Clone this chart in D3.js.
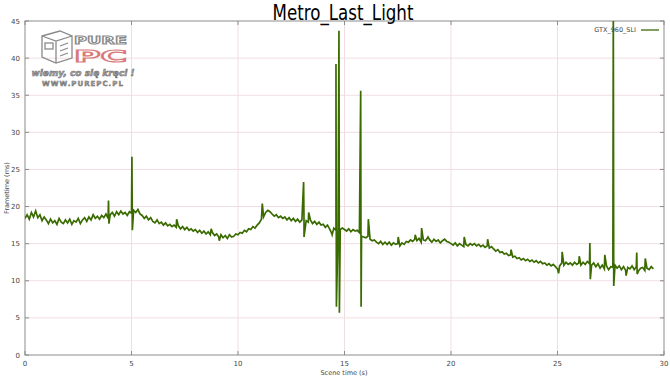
<!doctype html>
<html>
<head>
<meta charset="utf-8">
<script src="https://cdn.jsdelivr.net/npm/d3@7"></script>
<style>
  body { margin: 0; background: #fff; }
  svg { display: block; font-family: "DejaVu Sans", sans-serif; }
</style>
</head>
<body>
<svg width="670" height="377"></svg>
<script>

var chartTitle = "Metro_Last_Light";
var seriesName = "GTX_960_SLI";
var xTicks = [0, 5, 10, 15, 20, 25, 30];
var yTicks = [0, 5, 10, 15, 20, 25, 30, 35, 40, 45];

// frametime (ms) read every 0.1 s, one row per second
var baseStep = 0.1;
var baseValues = [
  18.4, 18.9, 18.3, 19.2, 18.6, 19.4, 18.5, 18.9, 18.1, 18.6,
  18.2, 17.7, 18.3, 17.8, 18.1, 17.6, 18.4, 17.9, 17.7, 18.2,
  17.8, 18.3, 17.6, 18.1, 17.9, 18.4, 17.7, 18.2, 18.5, 18.0,
  18.6, 18.2, 18.9, 18.4, 18.7, 18.3, 18.8, 18.5, 19.0, 18.4,
  18.9, 19.2, 18.7, 19.3, 18.9, 19.4, 19.0, 19.2, 18.8, 19.3,
  19.1, 19.5, 19.2, 19.6, 19.0, 18.8, 18.4, 18.7, 18.2, 18.5,
  18.0, 17.8, 18.2, 17.7, 17.9, 17.5, 17.8, 17.4, 17.6, 17.3,
  17.5, 17.2, 17.4, 17.0, 17.3, 16.9, 17.2, 16.8, 17.0, 16.7,
  16.9, 16.5, 16.8, 16.4, 16.7, 16.3, 16.6, 16.2, 16.5, 16.1,
  16.3, 15.9, 16.2, 15.8, 16.1, 15.7, 16.2, 15.9, 16.0, 16.3,
  16.2, 16.5, 16.4, 16.8, 16.6, 17.0, 16.9, 17.3, 17.1, 17.5,
  17.8, 18.3, 18.6, 19.2, 19.5, 19.3, 19.0, 18.7, 18.9, 18.5,
  18.7, 18.4, 18.6, 18.2, 18.5, 18.1, 18.4, 18.0, 18.3, 17.9,
  18.2, 17.8, 18.1, 17.9, 18.2, 17.7, 18.0, 17.6, 17.9, 17.5,
  17.6, 17.2, 17.5, 17.0, 16.4, 17.1, 16.8, 17.2, 16.9, 17.1,
  16.9, 16.7, 17.0, 16.6, 16.9, 16.7, 16.8, 16.5, 16.0, 15.9,
  15.8, 16.0, 15.6, 15.4, 15.5, 15.2, 15.0, 15.3, 14.9, 15.2,
  14.9, 15.2, 14.8, 15.1, 14.9, 15.0, 14.7, 15.1, 14.9, 15.3,
  15.2, 15.5, 15.3, 15.6, 15.4, 15.7, 15.2, 15.5, 15.4, 15.8,
  15.5, 15.2, 15.6, 15.3, 15.5, 15.1, 15.4, 15.6, 15.3, 15.2,
  15.0, 14.8, 15.1, 14.7, 15.0, 14.8, 14.6, 14.9, 14.7, 15.0,
  14.8, 15.0, 14.7, 14.9, 14.6, 14.8, 14.5, 14.7, 14.4, 14.6,
  14.3, 14.0, 14.2, 13.8, 13.9, 13.6, 13.7, 13.4, 13.5, 13.2,
  13.3, 13.0, 13.1, 12.8, 13.0, 12.7, 12.9, 12.6, 12.8, 12.5,
  12.7, 12.4, 12.6, 12.3, 12.4, 12.1, 12.3, 12.0, 12.2, 11.9,
  11.6, 12.0, 12.4, 12.1, 12.5, 12.2, 12.4, 12.1, 12.5, 12.2,
  12.4, 12.1, 12.5, 12.2, 12.6, 12.3, 12.1, 12.4, 11.9, 12.3,
  11.7, 12.1, 11.6, 12.0, 11.5, 11.9, 11.8, 12.1, 11.7, 12.0,
  11.5, 11.9, 11.4, 11.8, 11.6, 12.0, 11.5, 11.9, 11.3, 11.7,
  11.8, 11.4, 11.7, 11.5, 11.9, 11.6
];

// single frames that stick out of the band
var spikeTimes  = [3.92, 3.94, 5.02, 5.04, 7.12, 8.74, 9.12, 11.14, 13.08, 13.10,
                   13.32, 14.42, 14.60, 14.62, 14.74, 14.76, 15.76, 15.78, 16.12, 17.52,
                   18.32, 18.62, 18.92, 20.62, 21.72, 22.82, 25.05, 25.22, 26.02, 26.52,
                   26.54, 27.22, 27.62, 27.64, 28.22, 28.72, 28.74, 29.12];
var spikeValues = [20.8, 17.7, 26.7, 16.8, 18.3, 17.0, 15.4, 20.4, 23.3, 15.9,
                   19.2, 16.2, 39.2, 6.5, 43.7, 5.7, 35.6, 6.5, 18.3, 15.9,
                   16.2, 17.1, 15.9, 15.9, 15.6, 14.2, 11.0, 13.9, 13.3, 15.1,
                   10.2, 13.5, 47.0, 9.3, 10.7, 13.8, 10.9, 13.0];

var data = baseValues.map((v, i) => ({t: +(i * baseStep).toFixed(2), v: v}))
  .concat(spikeTimes.map((t, i) => ({t: t, v: spikeValues[i]})))
  .sort((a, b) => a.t - b.t);

var svg = d3.select("svg");
var plotLeft = 25, plotRight = 664, plotTop = 21, plotBottom = 355;

var xScale = d3.scaleLinear().domain([0, 30]).range([plotLeft, plotRight]);
var yScale = d3.scaleLinear().domain([0, 45]).range([plotBottom, plotTop]);

svg.append("rect").attr("width", 670).attr("height", 377).attr("fill", "#fff");

// grid
svg.append("g").selectAll("line")
  .data(xTicks.slice(1, -1)).enter().append("line")
  .attr("x1", d => xScale(d)).attr("x2", d => xScale(d))
  .attr("y1", plotTop).attr("y2", plotBottom)
  .attr("stroke", "#f1dde1").attr("stroke-width", 1);
svg.append("g").selectAll("line")
  .data(yTicks.slice(1, -1)).enter().append("line")
  .attr("x1", plotLeft).attr("x2", plotRight)
  .attr("y1", d => yScale(d)).attr("y2", d => yScale(d))
  .attr("stroke", "#f1dde1").attr("stroke-width", 1);

// logo
var logo = svg.append("g").attr("fill", "none").attr("stroke", "#8a8a8a").attr("stroke-width", 1.3);
logo.append("path").attr("d", "M42,36 L60,31 L72,36 L72,58 L56,63 L42,57 Z");
logo.append("path").attr("d", "M42,36 L56,41 L72,36 M56,41 L56,63");
logo.append("rect").attr("x", 45).attr("y", 43).attr("width", 8).attr("height", 6);
logo.append("path").attr("d", "M60,46 L68,43 M60,51 L68,48 M60,56 L68,53");
svg.append("text").attr("x", 74).attr("y", 44).text("PURE")
  .attr("font-size", 11).attr("font-weight", "bold")
  .attr("textLength", 53).attr("lengthAdjust", "spacingAndGlyphs")
  .attr("fill", "#fff").attr("stroke", "#8a8a8a").attr("stroke-width", 1);
svg.append("text").attr("x", 74).attr("y", 62).text("PC")
  .attr("font-size", 15).attr("font-weight", "bold")
  .attr("textLength", 53).attr("lengthAdjust", "spacingAndGlyphs")
  .attr("fill", "#fff").attr("stroke", "#d97a7a").attr("stroke-width", 1.2);
svg.append("text").attr("x", 83).attr("y", 76).text("wiemy, co się kręci !")
  .attr("text-anchor", "middle").attr("font-size", 9).attr("font-weight", "bold")
  .attr("font-style", "italic").attr("fill", "#aaa").attr("stroke", "#666").attr("stroke-width", 0.5);
svg.append("text").attr("x", 83).attr("y", 86).text("WWW.PUREPC.PL")
  .attr("text-anchor", "middle").attr("font-size", 7).attr("font-weight", "bold")
  .attr("letter-spacing", 1).attr("fill", "#999").attr("stroke", "#666").attr("stroke-width", 0.4);

// frame
svg.append("rect").attr("x", plotLeft).attr("y", plotTop)
  .attr("width", plotRight - plotLeft).attr("height", plotBottom - plotTop)
  .attr("fill", "none").attr("stroke", "#8c8c8c").attr("stroke-width", 1);

// ticks (inward, mirrored)
var tickG = svg.append("g").attr("stroke", "#8c8c8c");
xTicks.forEach(d => {
  tickG.append("line").attr("x1", xScale(d)).attr("x2", xScale(d)).attr("y1", plotBottom).attr("y2", plotBottom - 4);
  tickG.append("line").attr("x1", xScale(d)).attr("x2", xScale(d)).attr("y1", plotTop).attr("y2", plotTop + 4);
});
yTicks.forEach(d => {
  tickG.append("line").attr("x1", plotLeft).attr("x2", plotLeft + 4).attr("y1", yScale(d)).attr("y2", yScale(d));
  tickG.append("line").attr("x1", plotRight).attr("x2", plotRight - 4).attr("y1", yScale(d)).attr("y2", yScale(d));
});

svg.append("g").selectAll("text").data(xTicks).enter().append("text")
  .attr("x", d => xScale(d)).attr("y", 366)
  .attr("text-anchor", "middle").attr("font-size", 7).attr("fill", "#444")
  .text(d => d);
svg.append("g").selectAll("text").data(yTicks).enter().append("text")
  .attr("x", plotLeft - 5).attr("y", d => yScale(d) + 2.5)
  .attr("text-anchor", "end").attr("font-size", 7).attr("fill", "#444")
  .text(d => d);

svg.append("text").attr("x", 344).attr("y", 375).attr("text-anchor", "middle")
  .attr("font-size", 6.5).attr("fill", "#444").text("Scene time (s)");
svg.append("text").attr("transform", "translate(9,188) rotate(-90)").attr("text-anchor", "middle")
  .attr("font-size", 6.5).attr("fill", "#444").text("Frametime (ms)");

svg.append("text").attr("x", 343).attr("y", 20).attr("text-anchor", "middle")
  .attr("font-size", 22).attr("fill", "#000")
  .attr("textLength", 141).attr("lengthAdjust", "spacingAndGlyphs")
  .text(chartTitle);

// series
svg.append("clipPath").attr("id", "plotclip").append("rect")
  .attr("x", plotLeft).attr("y", plotTop).attr("width", plotRight - plotLeft).attr("height", plotBottom - plotTop);

var line = d3.line().x(d => xScale(d.t)).y(d => yScale(d.v));
svg.append("path").datum(data)
  .attr("clip-path", "url(#plotclip)")
  .attr("fill", "none").attr("stroke", "#3a6b00").attr("stroke-width", 1.7)
  .attr("d", line);

// legend
svg.append("text").attr("x", 636).attr("y", 32).attr("text-anchor", "end")
  .attr("font-size", 6.5).attr("fill", "#444").text(seriesName);
svg.append("line").attr("x1", 641).attr("x2", 659).attr("y1", 30).attr("y2", 30)
  .attr("stroke", "#3a6b00").attr("stroke-width", 1.3);

</script>
</body>
</html>
